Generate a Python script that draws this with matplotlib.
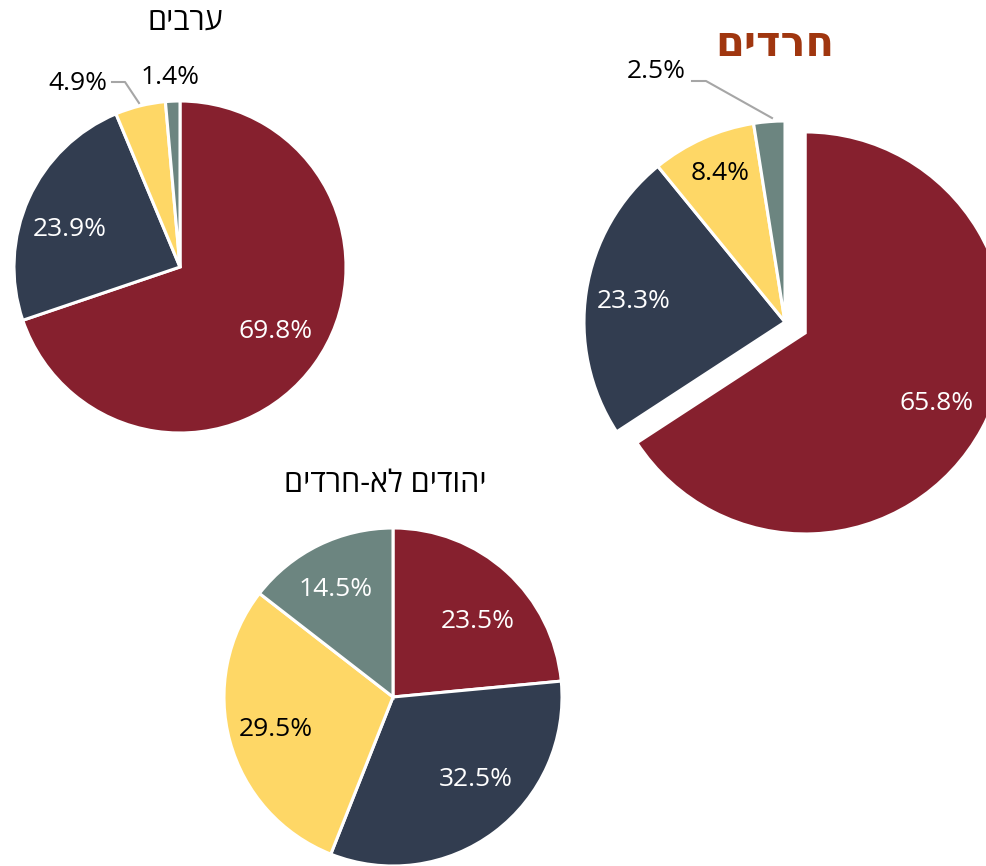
import matplotlib
matplotlib.use("Agg")
import matplotlib.pyplot as plt

plt.rcParams['font.family'] = ['Open Sans', 'DejaVu Sans']

W, H = 986, 866

groups = ["ערבים", "חרדים", "יהודים לא-חרדים"]
arabs = [69.8, 23.9, 4.9, 1.4]
haredim = [65.8, 23.3, 8.4, 2.5]
jews = [23.5, 32.5, 29.5, 14.5]

colors = ['#86202E', '#323D50', '#FED766', '#6C8580']
text_colors = ['white', 'white', 'black', 'white']
line_col = '#A6A6A6'
FS = 19


def rtl(s):
    # matplotlib has no bidi support
    return s[::-1]


fig = plt.figure(figsize=(W / 100, H / 100), dpi=100)
ax = fig.add_axes([0, 0, 1, 1])


def draw_pie(values, cx, cy, r, explode, label_pos):
    wedges, texts, autotexts = ax.pie(
        values, colors=colors, startangle=90, counterclock=False,
        center=(cx, H - cy), radius=r, explode=explode,
        autopct=lambda p: f'{p:.1f}%',
        wedgeprops=dict(edgecolor='white', linewidth=2.2),
        textprops=dict(fontsize=FS), frame=True)
    for i, t in enumerate(autotexts):
        x, y, inside = label_pos[i]
        t.set_position((x, H - y))
        t.set_color(text_colors[i] if inside else 'black')
    return autotexts


# ערבים
draw_pie(arabs, 180, 267, 166, [0, 0, 0, 0],
         [(276, 331, True), (70, 230, True), (78, 83, False), (170, 77, False)])
ax.plot([112, 125, 139], [H - 82, H - 82, H - 103], color=line_col, lw=1.5)
ax.text(185, H - 22, rtl(groups[0]), fontsize=22, ha='center', va='center')

# חרדים
draw_pie(haredim, 785, 322, 201, [23, 0, 0, 0],
         [(937, 403, True), (634, 302, True), (720, 173, True), (656, 72, False)])
ax.plot([692, 706, 772], [H - 81, H - 81, H - 118], color=line_col, lw=1.5)
ax.text(775, H - 45, rtl(groups[1]), fontsize=30, fontweight='bold',
        color='#A0360F', ha='center', va='center')

# יהודים לא-חרדים
draw_pie(jews, 393, 697, 169, [0, 0, 0, 0],
         [(478, 622, True), (476, 779, True), (276, 730, True), (336, 590, True)])
ax.text(385, H - 484, rtl(groups[2]), fontsize=22, ha='center', va='center')

ax.set_xlim(0, W)
ax.set_ylim(0, H)
ax.set_aspect('equal')
ax.axis('off')

fig.savefig('out.png', dpi=100)
